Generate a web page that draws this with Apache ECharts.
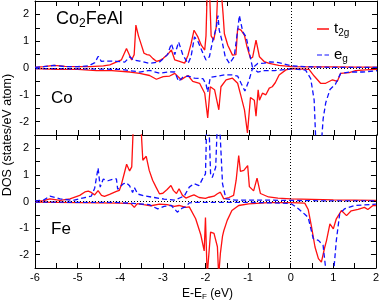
<!DOCTYPE html>
<html><head><meta charset="utf-8">
<script src="https://cdn.jsdelivr.net/npm/echarts@6/dist/echarts.min.js"></script>
<style>html,body{margin:0;padding:0;background:#fff}#c{width:382px;height:305px}</style>
</head><body><div id="c"></div>
<script>
// ---- data (energy E-EF in eV, DOS in states/eV atom) ----
const xTicks = [-6,-5,-4,-3,-2,-1,0,1,2];
const yTicks = [-2,-1,0,1,2];

// Co panel
const coT2gUp = [[-6,0.02],[-5.8,0.05],[-5.55,0.1],[-5.3,0.06],[-5.0,0.05],[-4.7,0.05],[-4.4,0.08],[-4.25,0.12],[-4.1,0.22],[-3.98,0.3],[-3.86,0.73],[-3.74,0.3],[-3.68,0.5],[-3.64,1.6],[-3.58,1.2],[-3.52,0.9],[-3.45,0.55],[-3.38,0.5],[-3.32,0.48],[-3.24,0.35],[-3.16,0.25],[-3.08,0.28],[-3.0,0.36],[-2.9,0.5],[-2.81,0.67],[-2.73,0.3],[-2.62,0.25],[-2.5,0.18],[-2.42,0.48],[-2.35,0.9],[-2.28,1.41],[-2.19,1.16],[-2.11,0.85],[-2.03,0.67],[-2.0,1.2],[-1.97,3.0],[-1.92,3.0],[-1.88,1.2],[-1.82,1.04],[-1.76,1.53],[-1.72,3.0],[-1.65,3.0],[-1.6,2.0],[-1.57,1.28],[-1.49,0.85],[-1.38,0.48],[-1.3,0.5],[-1.26,1.47],[-1.18,1.41],[-1.1,1.22],[-1.04,0.79],[-0.96,0.36],[-0.91,0.4],[-0.83,1.04],[-0.75,0.42],[-0.64,0.24],[-0.52,0.17],[-0.3,0.1],[0,0.05],[0.5,0.04],[1.0,0.04],[1.5,0.03],[2,0.03]];
const coT2gDown = [[-6,-0.02],[-5.5,-0.05],[-5,-0.05],[-4.56,-0.1],[-4.2,-0.1],[-3.78,-0.15],[-3.55,-0.2],[-3.32,-0.28],[-3.16,-0.42],[-3.0,-0.32],[-2.85,-0.3],[-2.73,-0.2],[-2.58,-0.44],[-2.5,-0.35],[-2.42,-0.28],[-2.31,-0.5],[-2.15,-0.57],[-2.03,-0.94],[-1.96,-1.86],[-1.9,-0.7],[-1.8,-0.81],[-1.7,-1.56],[-1.65,-0.7],[-1.53,-0.44],[-1.38,-0.38],[-1.26,-0.57],[-1.18,-1.06],[-1.1,-1.56],[-1.03,-2.42],[-0.96,-1.1],[-0.87,-1.2],[-0.83,-1.8],[-0.78,-0.81],[-0.75,-1.2],[-0.68,-0.94],[-0.6,-1.0],[-0.52,-0.75],[-0.45,-0.7],[-0.38,-0.55],[-0.29,-0.26],[-0.13,-0.07],[0,-0.02],[0.41,-0.05],[0.53,-0.3],[0.68,-0.57],[0.8,-0.57],[0.96,-0.44],[1.07,-0.5],[1.15,-0.2],[1.35,-0.17],[1.5,-0.1],[1.73,-0.07],[2,-0.05]];
const coEgUp = [[-6,0.02],[-5.8,0.05],[-5.55,0.1],[-5.3,0.05],[-5,0.05],[-4.75,0.08],[-4.6,0.2],[-4.52,0.44],[-4.45,0.25],[-4.3,0.26],[-4.1,0.25],[-3.9,0.22],[-3.78,0.42],[-3.7,0.3],[-3.55,0.26],[-3.32,0.17],[-3.08,0.23],[-2.9,0.5],[-2.81,0.91],[-2.73,0.5],[-2.64,0.97],[-2.54,0.48],[-2.42,0.17],[-2.35,0.42],[-2.27,1.16],[-2.19,1.0],[-2.07,0.54],[-2.0,0.3],[-1.92,0.42],[-1.84,1.04],[-1.76,1.5],[-1.72,1.96],[-1.69,1.41],[-1.63,1.04],[-1.55,0.42],[-1.45,0.17],[-1.34,0.42],[-1.26,1.41],[-1.22,1.96],[-1.14,1.35],[-1.06,1.16],[-0.99,0.6],[-0.91,0.0],[-0.79,0.17],[-0.64,0.18],[-0.5,0.23],[-0.3,0.2],[0,0.08],[0.3,0.05],[1,0.02],[2,0.02]];
const coEgDown = [[-6,-0.02],[-5,-0.03],[-4,-0.05],[-3.55,-0.15],[-3.32,-0.09],[-3.08,-0.2],[-2.85,-0.14],[-2.73,-0.15],[-2.64,-0.5],[-2.54,-0.34],[-2.42,-0.3],[-2.27,-0.38],[-2.07,-0.4],[-2.0,-0.6],[-1.96,-0.9],[-1.9,-0.35],[-1.72,-0.3],[-1.57,-0.26],[-1.38,-0.26],[-1.26,-0.3],[-1.18,-0.57],[-1.09,-0.86],[-0.99,-0.44],[-0.91,0.0],[-0.79,-0.15],[-0.64,-0.1],[-0.4,-0.1],[0,-0.03],[0.33,-0.08],[0.45,-0.4],[0.53,-1.2],[0.57,-2.8],[0.7,-2.8],[0.74,-1.9],[0.8,-1.3],[0.9,-0.8],[1.03,-0.6],[1.15,-0.2],[1.35,-0.15],[1.66,-0.15],[2,-0.1]];

// Fe panel
const feT2gUp = [[-6,0.0],[-5.8,0.03],[-5.65,0.1],[-5.41,0.04],[-5.18,0.1],[-4.95,0.23],[-4.83,0.36],[-4.75,0.39],[-4.68,0.34],[-4.6,0.25],[-4.52,0.41],[-4.44,0.23],[-4.37,0.19],[-4.25,0.27],[-4.09,0.38],[-4.02,0.42],[-3.98,0.6],[-3.9,1.09],[-3.85,1.4],[-3.78,1.15],[-3.73,1.3],[-3.69,3.0],[-3.6,3.2],[-3.52,3.0],[-3.47,1.55],[-3.39,1.7],[-3.32,1.17],[-3.24,0.8],[-3.16,0.54],[-3.08,0.29],[-3.0,0.31],[-2.9,0.45],[-2.81,0.6],[-2.75,0.41],[-2.68,0.3],[-2.62,0.48],[-2.54,0.23],[-2.46,0.13],[-2.35,0.2],[-2.27,0.25],[-2.15,0.15],[-2.0,0.12],[-1.92,0.16],[-1.8,0.2],[-1.72,0.29],[-1.65,0.35],[-1.57,0.1],[-1.45,0.15],[-1.34,0.23],[-1.28,0.8],[-1.22,1.73],[-1.18,1.13],[-1.1,1.17],[-1.01,1.35],[-0.97,0.56],[-0.87,0.4],[-0.79,0.88],[-0.71,0.3],[-0.52,0.17],[-0.3,0.13],[0,0.1],[0.5,0.08],[1.0,0.06],[1.5,0.05],[2,0.04]];
const feT2gDown = [[-6,-0.02],[-5,-0.04],[-4,-0.06],[-3.75,-0.08],[-3.67,-0.22],[-3.6,-0.08],[-3.45,-0.12],[-3.28,-0.16],[-3.08,-0.1],[-2.9,-0.12],[-2.73,-0.18],[-2.62,-0.15],[-2.46,-0.22],[-2.38,-0.2],[-2.23,-0.65],[-2.11,-1.25],[-2.03,-1.86],[-2.0,-0.6],[-1.96,-2.8],[-1.92,-2.8],[-1.88,-1.15],[-1.8,-1.2],[-1.72,-1.7],[-1.69,-2.8],[-1.65,-1.95],[-1.6,-1.3],[-1.57,-1.1],[-1.49,-0.71],[-1.38,-0.34],[-1.22,-0.15],[-0.99,-0.09],[-0.52,-0.04],[0,-0.04],[0.33,-0.06],[0.41,-0.3],[0.49,-0.96],[0.57,-1.71],[0.65,-2.15],[0.72,-2.28],[0.8,-1.71],[0.84,-1.47],[0.92,-0.84],[1.0,-1.03],[1.07,-0.65],[1.19,-0.34],[1.31,-0.53],[1.42,-0.35],[1.58,-0.3],[1.73,-0.22],[1.81,-0.3],[1.93,-0.15],[2,-0.15]];
const feEgUp = [[-6,0.02],[-5.8,0.05],[-5.65,0.2],[-5.41,0.1],[-5.1,0.04],[-4.83,0.15],[-4.68,0.2],[-4.6,0.5],[-4.52,1.26],[-4.47,0.54],[-4.4,0.84],[-4.29,0.78],[-4.17,0.84],[-4.09,0.85],[-4.06,0.46],[-3.94,0.65],[-3.86,0.71],[-3.78,0.59],[-3.71,0.34],[-3.67,0.53],[-3.59,0.28],[-3.43,0.21],[-3.2,0.15],[-2.97,0.09],[-2.73,0.05],[-2.58,0.15],[-2.5,0.2],[-2.38,0.54],[-2.27,0.67],[-2.15,0.6],[-2.07,0.85],[-2.0,1.04],[-1.97,3.0],[-1.92,3.0],[-1.88,1.04],[-1.84,0.9],[-1.76,1.29],[-1.72,3.0],[-1.67,3.0],[-1.6,0.67],[-1.52,0.1],[-1.3,0.05],[-0.5,0.05],[0,0.04],[1,0.02],[2,0.02]];
const feEgDown = [[-6,-0.02],[-5,-0.03],[-4.2,-0.03],[-3.78,-0.06],[-3.32,-0.12],[-3.12,-0.28],[-2.97,-0.18],[-2.8,-0.15],[-2.66,-0.4],[-2.55,-0.25],[-2.46,-0.2],[-2.38,-0.05],[-2.2,-0.03],[-1.5,-0.03],[-1.0,-0.03],[0,-0.07],[0.18,-0.27],[0.33,-0.48],[0.41,-0.6],[0.53,-1.4],[0.65,-1.46],[0.76,-1.65],[0.84,-2.8],[1.0,-2.8],[1.07,-1.47],[1.15,-0.46],[1.26,-0.28],[1.5,-0.15],[2,-0.1]];

// ---- chart ----
const FONT = '"Liberation Sans", Arial, Helvetica, sans-serif';
const RED = '#ff1010', BLUE = '#1010ff';
const chart = echarts.init(document.getElementById('c'), null, {renderer: 'canvas'});

function xAx(g, pos, labels) {
  return {type: 'value', gridIndex: g, position: pos, min: -6, max: 2, interval: 0.5,
    axisLine: {show: true, onZero: false, lineStyle: {color: '#000', width: 1}},
    axisTick: {show: true, inside: true, length: 5, lineStyle: {color: '#000', width: 1}},
    axisLabel: {show: labels, margin: 4, color: '#000', fontSize: 11, fontFamily: FONT,
      formatter: v => xTicks.includes(v) ? String(v) : ''},
    splitLine: {show: false}};
}
function yAx(g, pos, labels) {
  return {type: 'value', gridIndex: g, position: pos, min: -2.5, max: 2.5, interval: 0.5,
    axisLine: {show: true, onZero: false, lineStyle: {color: '#000', width: 1}},
    axisTick: {show: true, inside: true, length: 5, lineStyle: {color: '#000', width: 1}},
    axisLabel: {show: labels, margin: 6, color: '#000', fontSize: 11, fontFamily: FONT,
      formatter: v => yTicks.includes(v) ? String(v) : ''},
    splitLine: {show: false}};
}
function ser(name, data, g, color, dashed, withRef) {
  const s = {name, type: 'line', data, xAxisIndex: g * 2, yAxisIndex: g * 2,
    symbol: 'none', showSymbol: false, clip: true, silent: true,
    lineStyle: {color, width: 1.3, type: dashed ? [5, 3] : 'solid'},
    itemStyle: {color}, z: dashed ? 3 : 2};
  if (withRef) {
    s.markLine = {silent: true, symbol: 'none', label: {show: false},
      lineStyle: {color: '#000', type: [1, 2], width: 1},
      data: [{yAxis: 0}, {xAxis: 0}]};
  }
  return s;
}

chart.setOption({
  animation: false,
  backgroundColor: '#fff',
  grid: [
    {left: 35, top: 1, width: 342, height: 134, show: false},
    {left: 35, top: 135, width: 342, height: 133, show: false}
  ],
  xAxis: [xAx(0, 'bottom', false), xAx(0, 'top', false), xAx(1, 'bottom', true), xAx(1, 'top', false)],
  yAxis: [yAx(0, 'left', true), yAx(0, 'right', false), yAx(1, 'left', true), yAx(1, 'right', false)],
  legend: {
    data: [
      {name: 't2g', icon: 'rect', itemStyle: {color: RED}},
      {name: 'eg', icon: 'path://M0,0h5v1h-5zM7.5,0h4.5v1h-4.5z', itemStyle: {color: BLUE}}
    ],
    orient: 'vertical', left: 312, top: 15,
    itemWidth: 12, itemHeight: 1.5, itemGap: 8, selectedMode: false,
    textStyle: {fontSize: 15, fontFamily: FONT, color: '#000', lineHeight: 18,
      rich: {sub: {fontSize: 10, fontFamily: FONT, color: '#000', verticalAlign: 'bottom', lineHeight: 8}}},
    formatter: n => n === 't2g' ? 't{sub|2g}' : 'e{sub|g}'
  },
  series: [
    ser('t2g', coT2gUp, 0, RED, false, true),
    ser('t2g', coT2gDown, 0, RED, false, false),
    ser('eg', coEgUp, 0, BLUE, true, false),
    ser('eg', coEgDown, 0, BLUE, true, false),
    ser('t2g', feT2gUp, 1, RED, false, true),
    ser('t2g', feT2gDown, 1, RED, false, false),
    ser('eg', feEgUp, 1, BLUE, true, false),
    ser('eg', feEgDown, 1, BLUE, true, false)
  ],
  graphic: [
    {type: 'text', left: 56, top: 8, z: 10, style: {text: 'Co{sub|2}FeAl', fontSize: 18, fontFamily: FONT, fill: '#000', lineHeight: 22,
      rich: {sub: {fontSize: 12, fontFamily: FONT, fill: '#000', verticalAlign: 'bottom', lineHeight: 10}}}},
    {type: 'text', left: 51, top: 90, z: 10, style: {text: 'Co', fontSize: 17, fontFamily: FONT, fill: '#000'}},
    {type: 'text', left: 51, top: 221, z: 10, style: {text: 'Fe', fontSize: 17, fontFamily: FONT, fill: '#000'}},
    {type: 'text', left: 182, top: 287, z: 10, style: {text: 'E-E{sub|F} (eV)', fontSize: 12, fontFamily: FONT, fill: '#000', lineHeight: 14,
      rich: {sub: {fontSize: 8, fontFamily: FONT, fill: '#000', verticalAlign: 'bottom', lineHeight: 6}}}},
    {type: 'text', x: 8, y: 135, rotation: Math.PI / 2, z: 10,
      style: {text: 'DOS (states/eV atom)', fontSize: 12.5, fontFamily: FONT, fill: '#000', align: 'center', verticalAlign: 'middle'}}
  ]
});
</script></body></html>
